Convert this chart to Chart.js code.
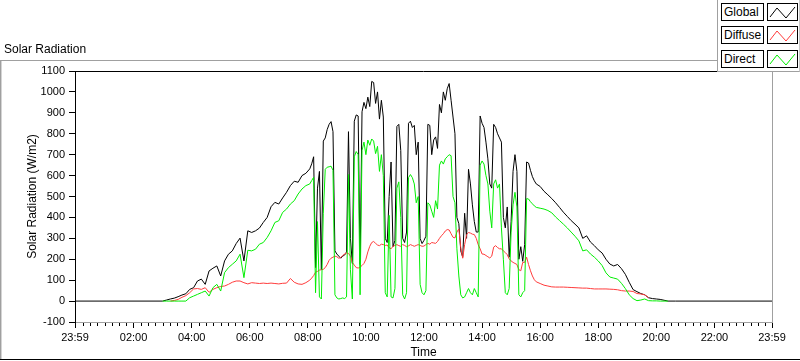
<!DOCTYPE html>
<html>
<head>
<meta charset="utf-8">
<script src="https://cdn.jsdelivr.net/npm/chart.js@4.4.1/dist/chart.umd.min.js"></script>
<style>
html,body{margin:0;padding:0;background:#fff;}
#wrap{position:relative;width:800px;height:361px;overflow:hidden;font-family:"Liberation Sans",Arial,sans-serif;color:#000;}
#c{position:absolute;left:0;top:0;}
#ptitle{position:absolute;left:4px;top:42px;font-size:12px;line-height:14px;white-space:nowrap;}
#legend{position:absolute;left:717px;top:0;width:83px;height:72px;background:#fff;border-left:1px solid #a0a0a0;border-bottom:1px solid #a0a0a0;border-right:1px solid #c8c8c8;box-sizing:border-box;}
.item{position:absolute;left:3px;width:43px;height:18px;border:1px solid #000;box-sizing:border-box;font-size:12px;line-height:16px;padding-left:2px;white-space:nowrap;background:#fff;}
.sw{position:absolute;left:49px;width:31px;height:18px;border:1px solid #000;box-sizing:border-box;background:#fff;}
.sw svg{position:absolute;left:0;top:0;}
</style>
</head>
<body>
<div id="wrap">
<canvas id="c" width="800" height="361"></canvas>
<div id="ptitle">Solar Radiation</div>
<div id="legend">
  <div class="item" style="top:3px">Global</div>
  <div class="sw" style="top:3px"><svg width="29" height="16"><polyline points="2,13 9,4 18,14 27,3" fill="none" stroke="#000" stroke-width="1"/></svg></div>
  <div class="item" style="top:26px">Diffuse</div>
  <div class="sw" style="top:26px"><svg width="29" height="16"><polyline points="2,13 9,4 18,14 27,3" fill="none" stroke="#ff3b3b" stroke-width="1"/></svg></div>
  <div class="item" style="top:50px">Direct</div>
  <div class="sw" style="top:50px"><svg width="29" height="16"><polyline points="2,13 9,4 18,14 27,3" fill="none" stroke="#00ee00" stroke-width="1"/></svg></div>
</div>
</div>
<script>
// time in minutes after midnight (-1 = 23:59 of previous day)
const times = [-1, 180,
188, 196, 204, 212, 220, 228, 236, 244, 252, 260,
268, 276, 284, 292, 300, 308, 316, 324, 332, 340,
348, 356, 364, 372, 380, 388, 396, 404, 412, 420,
428, 436, 444, 452, 460, 468, 476, 484, 488,
492, 496, 500, 504, 508, 512, 516, 520, 524, 528,
532, 536, 540, 544, 548, 552, 556, 560, 564, 568,
572, 576, 580, 584, 588, 592, 596, 600, 604, 608,
612, 616, 620, 624, 628, 632, 636, 640, 644, 648,
652, 656, 660, 664, 668, 672, 676, 680, 684, 688,
692, 696, 700, 704, 708, 712, 716, 720, 724, 728,
732, 736, 740, 744, 748, 752, 756, 760, 764, 768,
772, 776, 780, 784, 788, 792, 796, 800, 804, 808,
812, 816, 820, 824, 828, 832, 836, 840, 844, 848,
852, 856, 860, 864, 868, 872, 876, 880, 884, 888,
892, 896, 900, 904, 908, 912, 916, 920, 924, 928,
932, 936, 940, 944, 948, 952,
960, 968, 976, 984, 992, 1000, 1008, 1016, 1024, 1032,
1040, 1048, 1056, 1064, 1072, 1080, 1088, 1096, 1104, 1112,
1120, 1128, 1136, 1144, 1152, 1160, 1168, 1176, 1184, 1192,
1200, 1208, 1216, 1224, 1240, 1439];

const globalW = [0, 0,
5, 10, 14, 21, 29, 35, 56, 64, 96, 105,
80, 144, 157, 168, 120, 192, 224, 240, 275, 301,
192, 336, 328, 336, 349, 376, 400, 451, 472, 464,
493, 520, 552, 573, 568, 600, 611, 632, 656,
690, 160, 540, 620, 150, 765, 780, 820, 845, 858,
810, 240, 225, 215, 205, 215, 220, 235, 810, 300,
180, 860, 890, 885, 175, 905, 950, 920, 975, 930,
1050, 1045, 945, 1000, 870, 960, 880, 300, 280, 500,
665, 260, 290, 835, 845, 720, 300, 280, 330, 850,
860, 830, 840, 700, 760, 300, 275, 290, 310, 845,
840, 700, 770, 785, 730, 940, 900, 1000, 960, 1015,
1040, 960, 880, 800, 400, 370, 240, 210, 420, 300,
630, 560, 460, 380, 330, 330, 885, 850, 830, 760,
680, 560, 540, 845, 830, 800, 780, 760, 400, 350,
450, 210, 380, 620, 700, 620, 200, 260, 190, 270,
665, 660, 625, 595, 575, 560,
548, 525, 508, 490, 470, 448, 425, 405, 385, 368,
350, 300, 312, 282, 265, 245, 230, 200, 177, 168,
175, 155, 128, 90, 55, 45, 36, 30, 16, 12,
10, 8, 4, 0, 0, 0];

const diffuseW = [null, null,
null, 0, 3, 8, 18, 26, 40, 58, 60, 56,
64, 42, 56, 64, 70, 72, 80, 90, 96, 96,
88, 82, 88, 86, 84, 86, 84, 86, 84, 82,
85, 86, 108, 90, 82, 80, 88, 100, 110,
122, 138, 142, 148, 150, 152, 160, 175, 195, 205,
210, 215, 212, 205, 208, 218, 225, 230, 228, 215,
185, 172, 160, 158, 162, 170, 180, 200, 235, 262,
280, 285, 276, 268, 265, 272, 270, 266, 268, 255,
250, 262, 266, 270, 265, 262, 270, 266, 260, 264,
270, 266, 262, 266, 270, 266, 262, 263, 270, 276,
272, 280, 278, 276, 285, 300, 312, 322, 335, 342,
340, 322, 305, 302, 330, 345, 255, 205, 270, 318,
328, 325, 320, 318, 300, 270, 250, 225, 224, 218,
212, 206, 215, 258, 265, 256, 250, 250, 240, 232,
222, 202, 192, 185, 180, 175, 150, 145, 185, 185,
210, 175, 145, 120, 102, 92,
84, 76, 72, 68, 67, 67, 67, 66, 65, 64,
63, 62, 62, 60, 58, 58, 58, 58, 57, 56,
54, 50, 48, 48, 46, 36, 34, 30, 16, null,
null, null, null, null, null, null];

const directW = [null, 0,
0, 0, 0, 0, 0, 0, 16, 24, 32, 40,
48, 24, 64, 80, 48, 136, 160, 176, 192, 224,
112, 243, 240, 248, 272, 280, 304, 336, 376, 384,
424, 440, 464, 480, 512, 536, 552, 560, 576,
592, 40, 380, 20, 10, 420, 630, 640, 642, 645,
625, 30, 15, 10, 12, 15, 12, 20, 605, 150,
10, 690, 715, 700, 30, 720, 760, 700, 770, 745,
775, 765, 705, 740, 620, 700, 600, 40, 20, 410,
20, 15, 60, 540, 570, 400, 30, 10, 40, 590,
605, 590, 560, 470, 500, 80, 40, 30, 50, 470,
460, 430, 400, 480, 440, 650, 670, 655, 680, 690,
700, 695, 500, 470, 250, 120, 30, 15, 20, 40,
60, 40, 30, 60, 40, 20, 650, 670, 655, 600,
560, 430, 350, 560, 580, 540, 560, 350, 200, 40,
30, 60, 330, 460, 520, 450, 30, 20, 40, 50,
490, 488, 475, 465, 455, 448,
444, 440, 433, 422, 402, 385, 368, 350, 330, 310,
288, 240, 245, 225, 210, 192, 170, 135, 115, 110,
105, 85, 60, 30, 12, 2, 5, 10, 2, 1,
1, 0, 0, 0, null, null];

const seriesNames = ['Global', 'Diffuse', 'Direct'];
const xTickValues = [-1, 120, 240, 360, 480, 600, 720, 840, 960, 1080, 1200, 1320, 1439];
const xTickLabels = ['23:59', '02:00', '04:00', '06:00', '08:00', '10:00', '12:00', '14:00', '16:00', '18:00', '20:00', '22:00', '23:59'];

const FONT = "'Liberation Sans', Arial, sans-serif";
Chart.defaults.font.family = FONT;
Chart.defaults.color = '#000';

function pts(vals) {
  const out = [];
  for (let i = 0; i < times.length; i++) {
    if (vals[i] !== null && vals[i] !== undefined) out.push({x: times[i], y: vals[i]});
  }
  return out;
}

const framePlugin = {
  id: 'frame',
  beforeDraw(chart) {
    const ctx = chart.ctx;
    ctx.save();
    ctx.lineWidth = 1;
    ctx.strokeStyle = '#a0a0a0';
    ctx.beginPath();
    ctx.moveTo(0, 60.5); ctx.lineTo(718, 60.5);
    ctx.moveTo(0.5, 60); ctx.lineTo(0.5, 360);
    ctx.stroke();
    ctx.strokeStyle = '#d4d4d4';
    ctx.beginPath();
    ctx.moveTo(1.5, 61); ctx.lineTo(1.5, 359);
    ctx.stroke();
    ctx.strokeStyle = '#000';
    ctx.beginPath();
    ctx.moveTo(0, 359.5); ctx.lineTo(800, 359.5);
    ctx.stroke();
    ctx.restore();
  },
  afterDraw(chart) {
    const ctx = chart.ctx;
    const a = chart.chartArea;
    const xs = chart.scales.x;
    ctx.save();
    ctx.lineWidth = 1;
    ctx.strokeStyle = '#000';
    ctx.beginPath();
    ctx.moveTo(Math.round(a.left), Math.round(a.top) + 0.5);
    ctx.lineTo(Math.round(a.right), Math.round(a.top) + 0.5);
    ctx.stroke();
    ctx.strokeStyle = '#a0a0a0';
    ctx.beginPath();
    ctx.moveTo(Math.round(a.right) + 0.5, Math.round(a.top));
    ctx.lineTo(Math.round(a.right) + 0.5, Math.round(a.bottom) + 1);
    ctx.stroke();
    ctx.strokeStyle = '#000';
    ctx.beginPath();
    for (let m = 15; m < 1439; m += 15) {
      if (m % 120 === 0) continue;
      const px = Math.round(xs.getPixelForValue(m)) + 0.5;
      ctx.moveTo(px, Math.round(a.bottom) + 1);
      ctx.lineTo(px, Math.round(a.bottom) + 4);
    }
    ctx.stroke();
    ctx.restore();
  }
};

new Chart(document.getElementById('c'), {
  type: 'line',
  data: {
    datasets: [
      {label: seriesNames[0], data: pts(globalW), borderColor: '#000000', order: 3},
      {label: seriesNames[1], data: pts(diffuseW), borderColor: '#ff3b3b', order: 2},
      {label: seriesNames[2], data: pts(directW), borderColor: '#00ee00', order: 1}
    ]
  },
  options: {
    responsive: false,
    animation: false,
    devicePixelRatio: 1,
    elements: {line: {borderWidth: 1, tension: 0, fill: false}, point: {radius: 0}},
    layout: {padding: {left: 0, right: 28, top: 71, bottom: 0}},
    plugins: {legend: {display: false}, tooltip: {enabled: false}},
    scales: {
      x: {
        type: 'linear', min: -1, max: 1439,
        afterBuildTicks: s => { s.ticks = xTickValues.map(v => ({value: v})); },
        afterFit: s => { s.height = 39; },
        ticks: {
          autoSkip: false, maxRotation: 0, minRotation: 0, padding: 3, color: '#000',
          font: {size: 11, family: FONT},
          callback: (v) => { const i = xTickValues.indexOf(v); return i >= 0 ? xTickLabels[i] : ''; }
        },
        grid: {drawOnChartArea: false, drawTicks: true, tickLength: 6, tickColor: '#000'},
        border: {display: true, color: '#a0a0a0', width: 1},
        title: {display: true, text: 'Time', color: '#000', font: {size: 12, family: FONT}, padding: {top: 0, bottom: 1}}
      },
      y: {
        min: -100, max: 1100,
        afterFit: s => { s.width = 75; },
        ticks: {stepSize: 100, padding: 4, color: '#000', font: {size: 11, family: FONT}, callback: (v) => String(v)},
        grid: {drawOnChartArea: false, drawTicks: true, tickLength: 6, tickColor: '#000'},
        border: {display: true, color: '#000', width: 1},
        title: {display: true, text: 'Solar Radiation (W/m2)', color: '#000', font: {size: 12, family: FONT}, padding: {top: 25, bottom: 0}}
      }
    }
  },
  plugins: [framePlugin]
});
</script>
</body>
</html>
